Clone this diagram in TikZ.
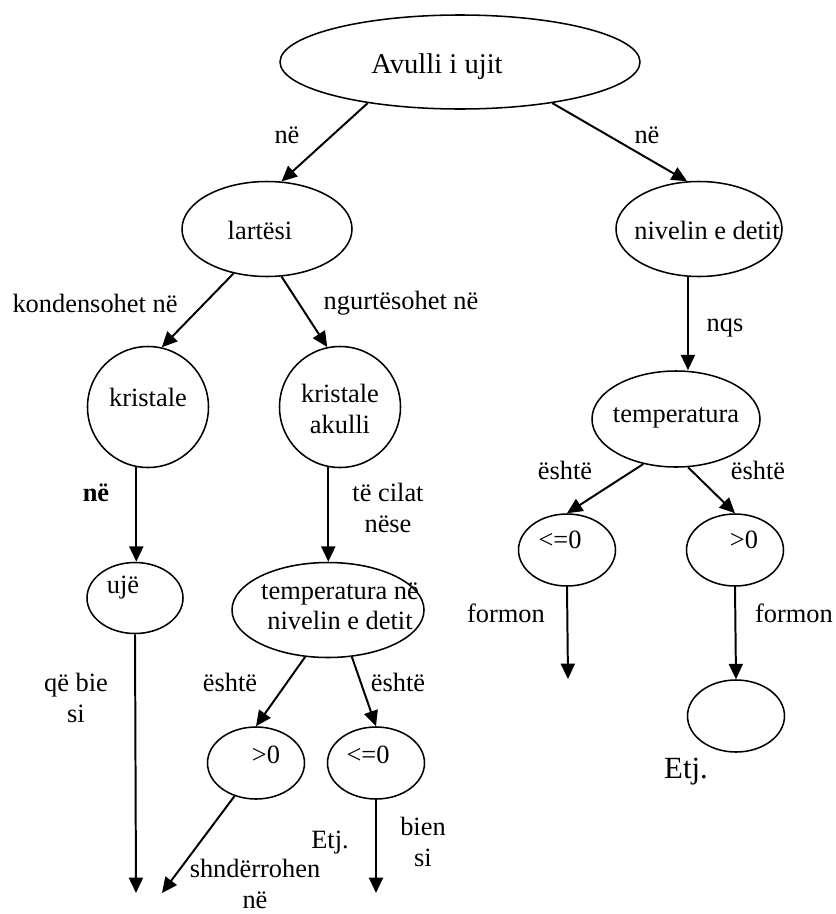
\documentclass[tikz,border=0pt]{standalone}
\usepackage{fontspec}
\setmainfont{Liberation Serif}
\usetikzlibrary{shapes.geometric,arrows.meta}
\newcommand{\pxu}{0.4545pt}
\tikzset{
% Node styles for the concept map: ovals and rings
oval/.style={ellipse,draw,line width=0.7pt,inner sep=0pt},
ring/.style={circle,draw,line width=0.7pt,inner sep=0pt,minimum size=121*\pxu},
small oval/.style={oval,minimum width=97*\pxu,minimum height=72*\pxu},
% connectors and their words
link/.style={line width=0.9pt,-{Triangle[length=7pt,width=6.4pt]}},
word/.style={inner sep=0pt,align=center}
}

\begin{document}
\begin{tikzpicture}[x=0.4545pt,y=-0.4545pt,font=\fontsize{12}{13.8}\selectfont]
      \useasboundingbox (0,0) rectangle (835,914);
      % Root and first level
      \node (avulli) [oval,minimum width=360*\pxu,minimum height=94*\pxu,
        label={[shift={(-23,5)},font=\fontsize{13}{15}\selectfont]center:Avulli i ujit}] at (460,62) {};
      \node (lartesi) [oval,minimum width=170*\pxu,minimum height=95*\pxu,
        label={[shift={(-7,1)}]center:lartësi}] at (267,229) {};
      \node (nivelin) [oval,minimum width=166*\pxu,minimum height=95*\pxu,
        label={[shift={(8,1)}]center:nivelin e detit}] at (699,229) {};
      % Left branch
      \node (kristale) [ring,label={[shift={(0,-10)}]center:kristale}] at (148,407) {};
      \node (akulli) [ring,label={[shift={(0,2)},align=center]center:kristale\\akulli}] at (340,407) {};
      \node (uje) [oval,minimum width=96*\pxu,minimum height=71*\pxu,
        label={[shift={(-12,-10)}]center:ujë}] at (135,598) {};
      \node (tempnd) [oval,minimum width=192*\pxu,minimum height=95*\pxu,
        label={[shift={(12,-4)},align=center]center:temperatura në\\nivelin e detit}] at (328,610) {};
      \node (gtL) [small oval,label={[shift={(10,-8)}]center:>0}] at (256,763) {};
      \node (leL) [small oval,label={[shift={(-8,-8)}]center:<=0}] at (376,763) {};
      % Right branch
      \node (tempR) [oval,minimum width=168*\pxu,minimum height=96*\pxu,
        label={[shift={(0,-1)}]center:temperatura}] at (676,419) {};
      \node (leR) [small oval,label={[shift={(-7,-10)}]center:<=0}] at (567,550) {};
      \node (gtR) [small oval,label={[shift={(9,-10)}]center:>0}] at (735,550) {};
      \node (blank) [small oval] at (736,716) {};
      % free ends of the open arrows
      \coordinate (endA) at (136,893);
      \coordinate (endB) at (162,893);
      \coordinate (endC) at (376,893);
      \coordinate (endD) at (568,679);
      % Connectors
      \draw[link] (avulli.204) -- (lartesi.73);
      \draw[link] (avulli.336) -- (nivelin.104);
      \draw[link] (lartesi.233) -- (kristale.77);
      \draw[link] (lartesi.287) -- (akulli.102);
      \draw[link] (nivelin.257) -- (nivelin.257 |- tempR.north);
      \draw[link] (kristale.259) -- (kristale.259 |- uje.north);
      \draw[link] (akulli.259) -- (akulli.259 |- tempnd.north);
      \draw[link] (tempnd.244) -- (gtL.north);
      \draw[link] (tempnd.297) -- (leL.north);
      \draw[link] (uje.south) -- (endA);
      \draw[link] (gtL.237) -- (endB);
      \draw[link] (leL.south) -- (endC);
      \draw[link] (tempR.234) -- (leR.north);
      \draw[link] (tempR.284) -- (gtR.north);
      \draw[link] (leR.south) -- (endD);
      \draw[link] (gtR.south) -- (blank.north);
      % Words on the connectors
      \node (w1) [word] at (287,135) {në};
      \node (w2) [word] at (647,135) {në};
      \node (w3) [word] at (95,303) {kondensohet në};
      \node (w4) [word] at (401,303) {ngurtësohet në};
      \node (w5) [word,font=\fontsize{12}{13.8}\selectfont\bfseries] at (96,493) {në};
      \node (w6) [word] at (388,508) {të cilat\\nëse};
      \node (w7) [word] at (725,328) {nqs};
      \node (w8) [word] at (76,698) {që bie\\si};
      \node (w9) [word] at (230,682) {është};
      \node (w10) [word] at (398,682) {është};
      \node (w11) [word] at (565,470) {është};
      \node (w12) [word] at (758,470) {është};
      \node (w13) [word] at (506,613) {formon};
      \node (w14) [word] at (794,613) {formon};
      \node (w15) [word] at (255,884) {shndërrohen\\në};
      \node (w16) [word] at (423,842) {bien\\si};
      \node (w17) [word] at (330,843) {Etj.};
      \node (w18) [word,font=\fontsize{14}{16}\selectfont] at (686,772) {Etj.};
\end{tikzpicture}
\end{document}
